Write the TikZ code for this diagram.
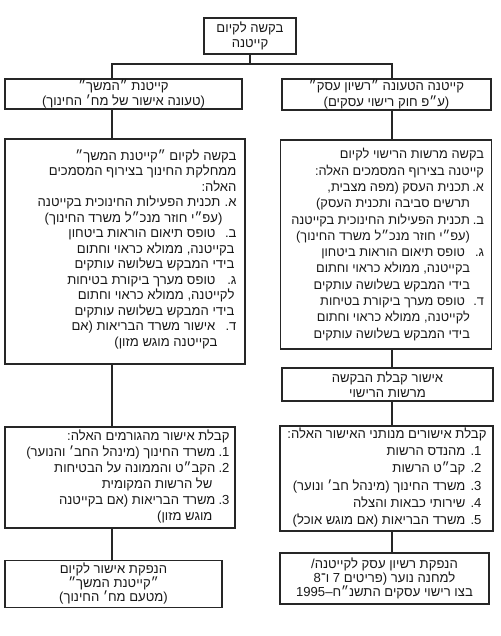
\documentclass[tikz,border=0pt]{standalone}
\usepackage{fontspec}
\newfontfamily\heb[Script=Hebrew]{Liberation Sans}
\TeXXeTstate=1
\newcommand\RL[1]{\beginR #1\endR}
\newcommand\IT[3]{\beginR\makebox[#1][l]{\beginR #2\endR}#3\endR}
\newcommand\CT[2]{\beginR\hspace*{#1}#2\endR}
\begin{document}
\begin{tikzpicture}[x=1pt,y=-1pt,
  box/.style={draw=black!85, line width=1.3pt, inner sep=0pt, text=black!90},
  txt/.style={inner sep=0pt, text=black!90, align=right, anchor=east},
  fs/.style={font=\heb\fontsize{13.1}{#1}\selectfont},
  fss/.style={font=\heb\fontsize{12.8}{#1}\selectfont},
  conn/.style={draw=black!85, line width=1.2pt}]
\useasboundingbox (0,0) rectangle (500,636);
\fill[white] (0,0) rectangle (500,636);

% top
\node[box, fs=15, align=center, minimum width=92, minimum height=36] (top) at (250,36)
  {\RL{בקשה לקיום}\\\RL{קייטנה}};

% level 1
\node[box, fs=15.5, align=center, minimum width=237, minimum height=30] (l1) at (123.5,94)
  {\RL{קייטנת ״המשך״}\\\RL{(טעונה אישור של מח׳ החינוך)}};
\node[box, fs=15.5, align=center, minimum width=209, minimum height=31] (r1) at (386.5,94.5)
  {\RL{קייטנה הטעונה ״רשיון עסק״}\\\RL{(ע״פ חוק רישוי עסקים)}};

% level 2
\node[box, minimum width=240, minimum height=225] (l2) at (125,251.5) {};
\node[txt, fs=15.5, xshift=-9pt, yshift=2pt] (l2t) at (l2.east)
  {\RL{בקשה לקיום ״קייטנת המשך״}\\
   \RL{ממחלקת החינוך בצירוף המסמכים}\\
   \RL{האלה:}\\
   \IT{16pt}{א.}{תכנית הפעילות החינוכית בקייטנה}\\
   \CT{14pt}{(עפ״י חוזר מנכ״ל משרד החינוך)}\\
   \IT{21pt}{ב.}{טופס תיאום הוראות ביטחון}\\
   \CT{2pt}{בקייטנה, ממולא כראוי וחתום}\\
   \CT{2pt}{בידי המבקש בשלושה עותקים}\\
   \IT{21pt}{ג.}{טופס מערך ביקורת בטיחות}\\
   \CT{2pt}{לקייטנה, ממולא כראוי וחתום}\\
   \CT{2pt}{בידי המבקש בשלושה עותקים}\\
   \IT{21pt}{ד.}{אישור משרד הבריאות (אם}\\
   \CT{19pt}{בקייטנה מוגש מזון)}};
\node[box, minimum width=211, minimum height=209] (r2) at (386,244.5) {};
\node[txt, fss=16.3, xshift=-8pt] (r2t) at (r2.east)
  {\RL{בקשה מרשות הרישוי לקיום}\\
   \RL{קייטנה בצירוף המסמכים האלה:}\\
   \IT{14pt}{א.}{תכנית העסק (מפה מצבית,}\\
   \CT{14pt}{תרשים סביבה ותכנית העסק)}\\
   \IT{14pt}{ב.}{תכנית הפעילות החינוכית בקייטנה}\\
   \CT{14pt}{(עפ״י חוזר מנכ״ל משרד החינוך)}\\
   \IT{19pt}{ג.}{טופס תיאום הוראות ביטחון}\\
   \CT{14pt}{בקייטנה, ממולא כראוי וחתום}\\
   \CT{14pt}{בידי המבקש בשלושה עותקים}\\
   \IT{19pt}{ד.}{טופס מערך ביקורת בטיחות}\\
   \CT{14pt}{לקייטנה, ממולא כראוי וחתום}\\
   \CT{14pt}{בידי המבקש בשלושה עותקים}};

% right level 3
\node[box, fs=15, align=center, minimum width=211, minimum height=33] (r3) at (387.5,384.5)
  {\RL{אישור קבלת הבקשה}\\\RL{מרשות הרישוי}};

% level 4
\node[box, minimum width=213, minimum height=105] (r4) at (386.5,478.5) {};
\node[txt, fs=17.2, xshift=-7pt, yshift=1pt] (r4t) at (r4.east)
  {\RL{קבלת אישורים מנותני האישור האלה:}\\
   \CT{5pt}{\makebox[16pt][l]{\RL{1.}}מהנדס הרשות}\\
   \CT{5pt}{\makebox[16pt][l]{\RL{2.}}קב״ט הרשות}\\
   \CT{5pt}{\makebox[16pt][l]{\RL{3.}}משרד החינוך (מינהל חב׳ ונוער)}\\
   \CT{5pt}{\makebox[16pt][l]{\RL{4.}}שירותי כבאות והצלה}\\
   \CT{5pt}{\makebox[16pt][l]{\RL{5.}}משרד הבריאות (אם מוגש אוכל)}};
\node[box, minimum width=230, minimum height=101] (l4) at (120,477.5) {};
\node[txt, fs=16, xshift=-6pt, yshift=1pt] (l4t) at (l4.east)
  {\RL{קבלת אישור מהגורמים האלה:}\\
   \IT{14pt}{1.}{משרד החינוך (מינהל החב׳ והנוער)}\\
   \IT{14pt}{2.}{הקב״ט והממונה על הבטיחות}\\
   \CT{17pt}{של הרשות המקומית}\\
   \IT{14pt}{3.}{משרד הבריאות (אם בקייטנה}\\
   \CT{17pt}{מוגש מזון)}};

% level 5
\node[box, fs=14, align=center, minimum width=217, minimum height=47] (l5) at (113.5,584)
  {\RL{הנפקת אישור לקיום}\\\RL{״קייטנת המשך״}\\\RL{(מטעם מח׳ החינוך)}};
\node[box, fs=14, align=center, minimum width=209, minimum height=51] (r5) at (384.5,578.5)
  {\RL{הנפקת רשיון עסק לקייטנה/}\\\RL{למחנה נוער (פריטים 7 ו־8}\\\RL{בצו רישוי עסקים התשנ״ח–1995}};

% connectors
\coordinate (XL) at (112,0);
\coordinate (XR) at (392,0);
\coordinate (J) at (250,64);
\draw[conn] (top.south) -- (J);
\draw[conn] (l1.north -| XL) |- (J) -| (r1.north -| XR);
\draw[conn] (l1.south -| XL) -- (l2.north -| XL);
\draw[conn] (r1.south -| XR) -- (r2.north -| XR);
\draw[conn] (r2.south -| XR) -- (r3.north -| XR);
\draw[conn] (r3.south -| XR) -- (r4.north -| XR);
\draw[conn] (r4.south -| XR) -- (r5.north -| XR);
\draw[conn] (l2.south -| XL) -- (l4.north -| XL);
\draw[conn] (l4.south -| XL) -- (l5.north -| XL);
\end{tikzpicture}
\end{document}
